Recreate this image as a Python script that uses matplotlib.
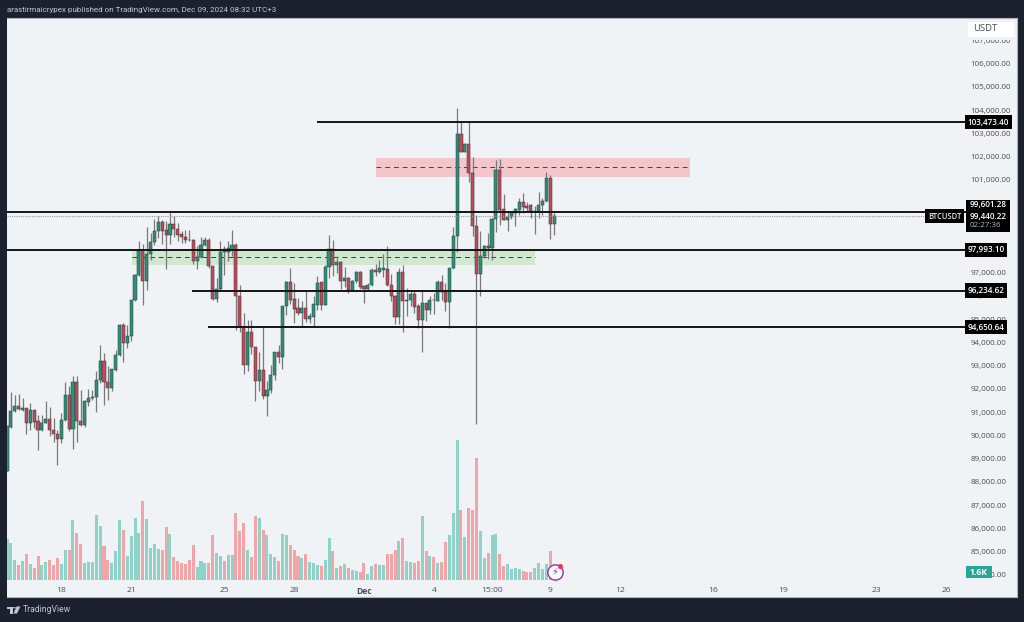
import matplotlib
matplotlib.use("Agg")
import matplotlib.pyplot as plt
from matplotlib.patches import Rectangle, Polygon, Circle

opens = [88450,90357,91030,91260,91100,91174,90515,91090,90615,90242,
         90530,90687,90242,90041,89841,90658,91720,90256,92293,90601,
         90428,91430,91604,91650,92379,93210,92293,92020,92810,93454,
         94759,93970,94257,95806,96896,97986,96652,97799,98301,98817,
         99162,98846,98645,99076,98875,98674,98559,98416,98387,97484,
         97670,98172,98416,97269,95878,96294,98029,97900,97986,98200,
         95978,94659,93010,94444,93784,92336,92809,91676,91934,92580,
         93584,93354,95548,96609,95863,95462,95275,95462,94989,95104,
         95605,96580,95620,97240,98000,97326,97455,96623,96767,96265,
         96623,97025,96408,96294,96451,97097,97011,97125,97168,96451,
         96007,95104,97040,95792,95806,96064,95548,94946,95691,95404,
         95835,95777,96580,96165,95734,97197,98588,102962,102216,102546,
         101284,99018,96924,97699,98129,98057,99305,101427,99735,99276,
         99391,99563,99706,100051,99879,99907,99635,99663,99893,100094,101097,99090]
closes = [90385,91031,91275,91131,91160,90515,91100,90586,90242,90530,
          90687,90242,90041,89841,90658,91733,90256,92293,90601,90428,
          91461,91604,91650,92379,93210,92293,92020,92852,93454,94759,
          93970,94286,95806,96896,97986,96652,97799,98301,98817,99162,
          98817,98631,99076,98875,98645,98559,98402,98387,97498,97670,
          98172,98387,97269,95878,96294,97885,97885,98070,98172,95978,
          94659,93010,94444,93784,92336,92809,91676,91934,92594,93598,
          93354,95548,96609,95835,95447,95275,95462,95003,95118,95634,
          96566,95620,97240,98000,97326,97455,96623,96767,96236,96638,
          97025,96380,96294,96480,97111,97040,97183,97183,96451,95978,
          95089,97040,95792,95835,96064,95519,94946,95691,95404,95806,
          95806,96580,96150,95734,97197,98588,102962,102216,102546,101284,
          99018,96924,97699,98129,98057,99305,101427,99706,99276,99391,
          99592,99735,100051,99821,99793,99635,99663,99893,100094,101083,99090,99434]
highs = [90400,91848,91748,91776,91604,91180,91389,91100,90887,90887,
         91475,91217,90744,90240,90959,92293,92106,92565,92565,91963,
         91530,92006,91934,92780,93899,93540,92967,92860,93684,94800,
         94831,94759,95835,96950,98358,98244,98961,98703,99305,99420,
         99250,99205,99592,99420,99133,98817,98846,98846,98445,98129,
         98559,98531,98488,97297,96767,98344,98129,98344,98846,98272,
         96480,95261,94946,94946,93800,93569,94644,92321,93038,93610,
         93899,95560,96640,97197,96552,95906,95763,96236,95261,95978,
         96838,96620,97340,98631,98416,97699,97484,97226,96795,96695,
         97082,97054,96480,96552,97197,97369,97527,97814,98129,96953,
         96050,97197,97340,96337,96236,96265,95663,96236,95700,95978,
         96121,96695,96910,96552,97210,98961,104080,103535,102575,103535,
         102001,99491,98817,98201,98703,99348,101857,101886,100395,99635,
         99635,99778,100208,100423,100065,99965,99850,100466,100208,101355,101212,99563]
lows = [88450,90340,91010,91074,91030,90070,90213,90314,89382,90170,
        90520,89955,89711,88736,89668,90600,90170,89410,89697,90385,
        90357,91246,91533,90988,92250,91318,91504,91891,92780,93400,
        93139,93770,94042,95763,96840,95620,96265,97555,98200,98488,
        98229,97154,98229,98559,98344,98300,98300,98358,97383,97154,
        97627,98129,97197,95835,95734,96265,96896,97484,97699,94544,
        94429,92651,92752,93512,91461,91905,91576,90816,91819,92364,
        93110,92852,95189,95663,94831,95189,94687,94874,94831,94687,
        95404,95404,95600,96767,96838,96982,96294,96380,96121,96236,
        96552,96294,95691,96193,96437,96867,96982,96810,96437,95763,
        94802,94802,94429,95118,95577,95261,94616,93569,94903,95232,
        95232,95763,95835,95333,94616,97168,97871,102187,102187,100925,
        98588,90500,95978,97627,97584,97527,98774,99061,99248,98817,
        99305,99032,99491,99563,99592,99348,98660,99348,99491,100065,98445,98631]
# volume in thousands
volumes = [8.3,7.5,4.1,3.0,3.9,5.2,3.3,2.5,4.8,3.0,
           3.7,4.0,3.1,4.5,3.2,6.1,6.1,12.1,9.5,7.2,
           3.4,3.7,3.6,13.1,10.8,6.9,4.0,3.4,5.9,12.0,
           10.1,4.8,8.9,12.5,9.5,15.9,12.3,6.4,7.2,6.3,
           6.0,10.7,9.2,4.7,3.8,3.4,3.2,4.1,7.1,2.7,
           3.9,3.5,3.5,9.0,5.5,4.8,3.8,5.1,5.0,13.5,
           9.8,11.4,6.0,4.6,12.9,12.4,10.0,9.0,5.3,4.7,
           3.9,9.3,9.1,7.1,6.0,4.8,4.5,5.3,3.6,3.5,
           3.1,2.8,4.0,8.5,5.8,2.5,2.9,3.3,2.4,2.0,
           1.8,1.7,3.5,1.3,2.9,3.2,3.0,3.0,5.2,5.2,
           6.0,7.9,8.5,3.8,3.6,3.5,3.9,12.8,5.8,4.9,
           4.7,3.5,3.7,7.7,9.0,13.5,28.1,14.1,8.6,14.4,
           14.0,24.5,9.9,4.4,5.4,9.0,9.2,5.2,2.8,3.2,
           2.3,2.4,2.3,1.9,1.7,1.6,2.5,3.4,2.3,3.2,5.9,1.6]

# 98k-100k sit fully behind the price tags, so they are left out
price_ticks = [84000, 85000, 86000, 87000, 88000, 89000, 90000, 91000, 92000, 93000, 94000, 95000,
               96000, 97000, 101000, 102000, 103000, 104000, 105000, 106000, 107000]
date_pos = [14, 32, 56, 74, 92, 110, 125, 140, 158, 182, 200, 224, 242]
date_labels = ["18", "21", "25", "28", "Dec", "4", "15:00", "9", "12", "16", "19", "23", "26"]

level_prices = [103473.40, 99601.28, 97993.10, 96234.62, 94650.64]
level_starts = [80, 0, 0, 47.7, 51.8]

BG = "#f0f3f6"
DARK = "#1c2130"
UP, DOWN = "#2f8f7a", "#c24a5a"
VOL_UP, VOL_DOWN = "#8fd2c7", "#f2a5a8"
FONT = "Open Sans"
TICK = "#4a4d55"

fig = plt.figure(figsize=(10.24, 6.22), dpi=100, facecolor=DARK)
ax = fig.add_axes([7/1024, 1 - 597/622, 1010/1024, 579/622])
ax2 = ax.twinx()
ax.set_zorder(2)
ax.patch.set_visible(False)
ax2.set_zorder(1)
ax2.patch.set_visible(True)
ax2.set_facecolor(BG)

x = list(range(len(opens)))
up = [c >= o for o, c in zip(opens, closes)]

# volume
ax2.bar(x, volumes, width=0.78, color=[VOL_UP if u else VOL_DOWN for u in up])
ax2.set_ylim(-3.4, 112.4)
ax2.set_yticks([])

# zones
ax.add_patch(Rectangle((95.1, 101120), 80.9, 817, color="#f3c6cc", lw=0, zorder=1))
ax.add_patch(Rectangle((32.2, 97333), 103.9, 645, color="#cfe8cf", lw=0, zorder=1))
ax.plot([95.1, 176], [101550, 101550], color="#7a2a35", lw=0.7, ls=(0, (5, 4)), zorder=1.2)
ax.plot([32.2, 136.1], [97656, 97656], color="#24452c", lw=0.7, ls=(0, (5, 4)), zorder=1.2)

# candles
ax.vlines(x, lows, highs, color="#77797c", lw=0.9, zorder=2)
ax.bar(x, [abs(c - o) for o, c in zip(opens, closes)], bottom=[min(o, c) for o, c in zip(opens, closes)],
       width=0.8, color=[UP if u else DOWN for u in up], edgecolor="#2a3a38", linewidth=0.35, zorder=2.2)

# levels
for p, s in zip(level_prices, level_starts):
    ax.hlines(p, s, 247.3, color="#141414", lw=1.4, zorder=2.5)
ax.hlines(99440.22, 0, 237.5, color="#9a9da3", lw=0.8, ls=(0, (1, 1)), zorder=2.4)

ax.set_xlim(0, 260.3)
ax.set_ylim(83047, 107961)
ax.yaxis.tick_right()
ax.set_yticks(price_ticks)
ax.set_yticklabels([f"{p:,.2f}" for p in price_ticks], fontsize=5.8, family=FONT, color=TICK)
ax.tick_params(axis="y", length=0, pad=-33.5)
ax.set_xticks(date_pos)
ax.set_xticklabels(date_labels, fontsize=6.1, family=FONT, color=TICK)
ax.tick_params(axis="x", length=0, pad=-7)
ax.get_xticklabels()[4].set_fontweight("bold")
for a in (ax, ax2):
    for s in a.spines.values():
        s.set_visible(False)
for side in ("bottom", "right", "top"):
    ax2.spines[side].set_visible(True)
    ax2.spines[side].set_color("#b0b3ba")

# price labels on the scale
box = dict(facecolor="black", edgecolor="none", boxstyle="square,pad=0.32")
for p in [103473.40, 97993.10, 96234.62, 94650.64]:
    ax.text(247.6, p, f"{p:,.2f}", fontsize=5.9, family=FONT, fontweight=600, color="white",
            va="center", ha="left", bbox=box, zorder=5)
ax.add_patch(Rectangle((247.2, 98753), 11.4, 1377, color="black", lw=0, zorder=4.5))
ax.text(248.2, 99915, "99,601.28", fontsize=5.9, family=FONT, fontweight=600, color="white", va="center", zorder=5)
ax.text(248.2, 99440, "99,440.22", fontsize=5.9, family=FONT, fontweight=600, color="white", va="center", zorder=5)
ax.text(248.2, 99011, "02:27:36", fontsize=5.7, family=FONT, color="#b5b8bd", va="center", zorder=5)
ax.text(237.4, 99441, "BTCUSDT", fontsize=5.5, family=FONT, fontweight=600, color="#e8e8e8", va="center", ha="left",
        bbox=dict(facecolor="black", edgecolor="none", boxstyle="square,pad=0.35"), zorder=5)

# USDT box and volume tag, the box fades out over the top of the 107k label
ax.add_patch(Rectangle((247.8, 106993), 11.8, 160, color=BG, lw=0, zorder=4))
ax.add_patch(Rectangle((247.8, 107140), 11.8, 650, color="white", lw=0, zorder=4))
ax.text(249, 107490, "USDT", fontsize=6.8, family=FONT, color=TICK, va="center", zorder=5)
ax.add_patch(Rectangle((247.2, 83880), 6.7, 480, color="#26a69a", lw=0, zorder=4.5))
ax.text(250.5, 84120, "1.6K", fontsize=6.2, family=FONT, fontweight="bold", color="white",
        va="center", ha="center", zorder=5)

# lightning marker
ax.plot([141.2], [84120], marker="o", ms=11, mfc="white", mec="#9c27b0", mew=1, zorder=4)
ax.text(141.2, 84120, "\u26a1", fontsize=7, family="DejaVu Sans", color="#9c27b0",
        ha="center", va="center", zorder=5)
ax.plot([142.6], [84380], marker="o", ms=2.6, color="#f23645", zorder=6)

# header and footer
fig.text(7/1024, 1 - 10/622, "arastirmaicrypex published on TradingView.com, Dec 09, 2024 08:32 UTC+3",
         fontsize=5.8, family="Roboto", color="#c4c7cd", va="center")
fig.text(23/1024, 1 - 610/622, "TradingView", fontsize=6.2, family="Roboto", color="#c4c7cd", va="center")
logo = "#c4c7cd"
fig.add_artist(Polygon([[7/1024, 1-606.5/622], [12.5/1024, 1-606.5/622], [12.5/1024, 1-613.5/622],
                        [10/1024, 1-613.5/622], [10/1024, 1-609/622], [7/1024, 1-609/622]],
                       closed=True, color=logo, lw=0, transform=fig.transFigure))
fig.add_artist(Polygon([[16.5/1024, 1-606.5/622], [20.5/1024, 1-606.5/622], [17/1024, 1-613.5/622],
                        [13.5/1024, 1-613.5/622]], closed=True, color=logo, lw=0, transform=fig.transFigure))
fig.add_artist(Circle((14.4/1024, 1-607.7/622), 0.0012, color=logo, lw=0, transform=fig.transFigure))

fig.savefig("out.png", dpi=100, facecolor=DARK)
